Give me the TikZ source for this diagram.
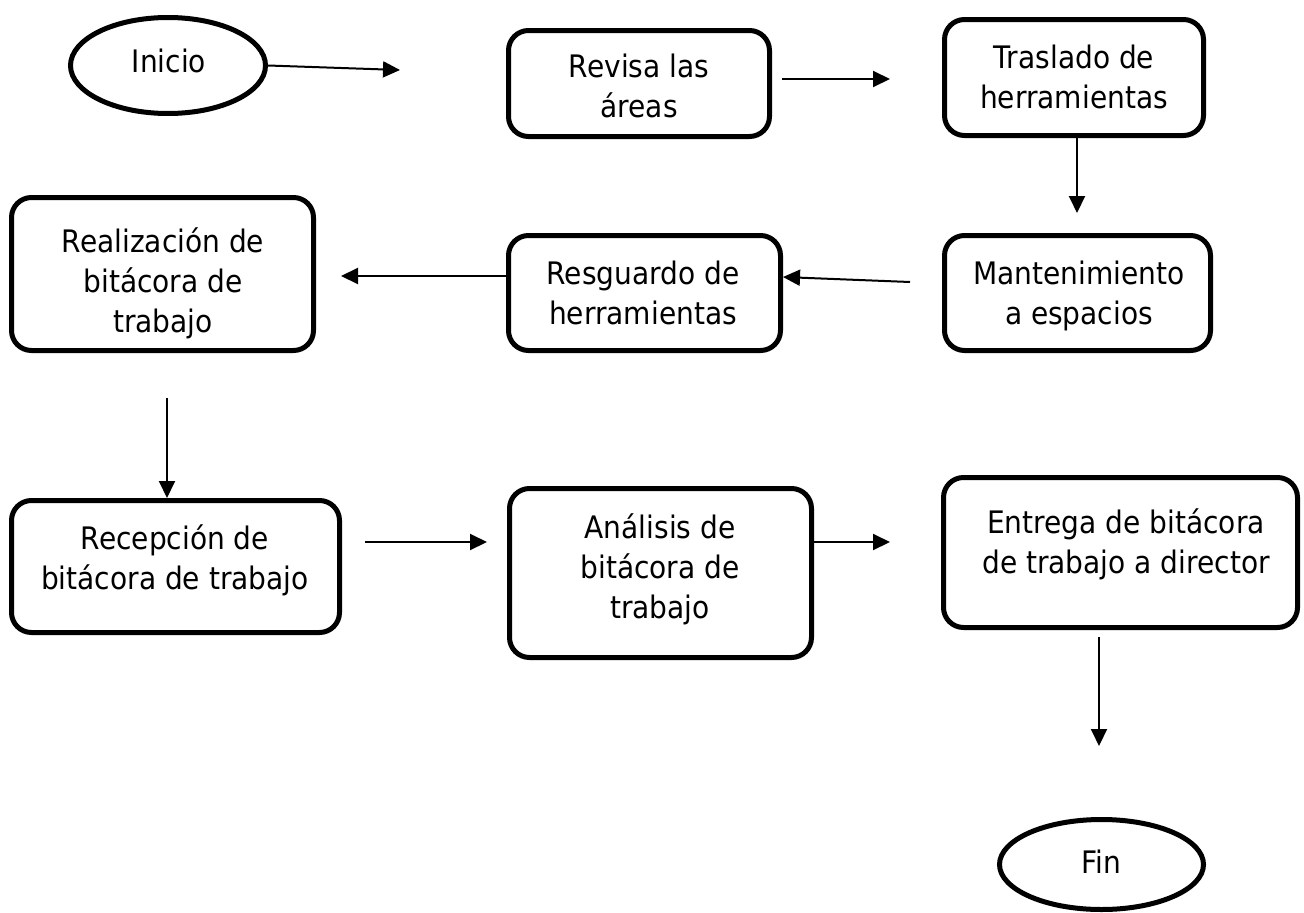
\documentclass[tikz,border=0pt]{standalone}
\usepackage{fontspec}
\setmainfont{DejaVu Sans}[FakeStretch=0.905]
\usetikzlibrary{shapes.geometric,arrows.meta}
\newcommand\topst{\rule{0pt}{30pt}}
\begin{document}
\begin{tikzpicture}[x=1pt,y=-1pt,
  box/.style={draw, line width=5pt, rounded corners=20pt, inner sep=0pt},
  term/.style={draw, ellipse, line width=5pt, inner sep=0pt},
  txt/.style={align=center, anchor=north, inner sep=0pt, outer sep=0pt, font=\fontsize{31}{40}\selectfont},
  arr/.style={line width=2pt, -{Triangle[length=17pt,width=16pt]}}]
\useasboundingbox (0,0) rectangle (1304,913);
% terminals
\node[term, minimum width=195pt, minimum height=96pt] (inicio) at (168,65.5) {};
\node[term, minimum width=204pt, minimum height=90pt] (fin) at (1101.5,864.5) {};
% boxes
\node[box, minimum width=261pt, minimum height=106pt] (revisa) at (639,83.5) {};
\node[box, minimum width=259pt, minimum height=116pt] (traslado) at (1074,77.5) {};
\node[box, minimum width=266pt, minimum height=115pt] (mant) at (1077.5,293) {};
\node[box, minimum width=272pt, minimum height=115pt] (resguardo) at (644.5,293) {};
\node[box, minimum width=302pt, minimum height=153pt] (realiz) at (162.5,274) {};
\node[box, minimum width=328pt, minimum height=132pt] (recepcion) at (175.5,566.5) {};
\node[box, minimum width=302pt, minimum height=169pt] (analisis) at (660.5,573) {};
\node[box, minimum width=354pt, minimum height=150pt] (entrega) at (1120.5,552.5) {};
% texts
\node[txt] (t-inicio) at (169,42) {\topst Inicio};
\node[txt] (t-fin) at (1101,843) {\topst Fin};
\node[txt] (t-revisa) at (639,47) {\topst Revisa las\\áreas};
\node[txt] (t-traslado) at (1074,38) {\topst Traslado de\\herramientas};
\node[txt] (t-mant) at (1079,254) {\topst Mantenimiento\\a espacios};
\node[txt] (t-resguardo) at (643,254) {\topst Resguardo de\\herramientas};
\node[txt] (t-realiz) at (163,222) {\topst Realización de\\bitácora de\\trabajo};
\node[txt] (t-recepcion) at (175,519) {\topst Recepción de\\bitácora de trabajo};
\node[txt] (t-analisis) at (660,508) {\topst Análisis de\\bitácora de\\trabajo};
\node[txt] (t-entrega) at (1126,503) {\topst Entrega de bitácora\\de trabajo a director};
% free ends
\coordinate (c1) at (400,70);
\coordinate (c2s) at (782,79);
\coordinate (c2e) at (890,79);
\coordinate (c3) at (1077,213);
\coordinate (c4) at (910,282);
\coordinate (c5) at (341,276);
\coordinate (c6) at (167,398);
\coordinate (c7s) at (365,542);
\coordinate (c7e) at (487,542);
\coordinate (c8) at (890,542);
\coordinate (c9s) at (1099,637);
\coordinate (c9e) at (1099,746);
% connectors
\draw[arr] (inicio.east) -- (c1);
\draw[arr] (c2s) -- (c2e);
\draw[arr] (c3 |- traslado.south) -- (c3);
\draw[arr] (c4) -- ([yshift=16pt]resguardo.east);
\draw[arr] ([yshift=17pt]resguardo.west) -- (c5);
\draw[arr] (c6) -- (c6 |- recepcion.north);
\draw[arr] (c7s) -- (c7e);
\draw[arr] ([yshift=31pt]analisis.east) -- (c8);
\draw[arr] (c9s) -- (c9e);
\end{tikzpicture}
\end{document}
